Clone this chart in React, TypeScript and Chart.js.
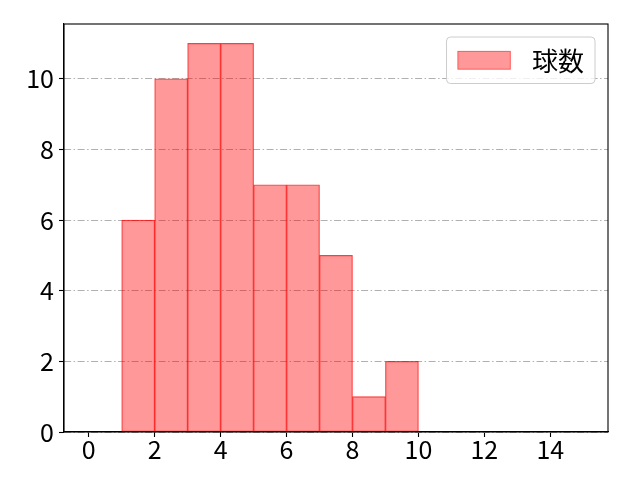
import React, { useEffect, useRef } from "react";
import { Chart, registerables } from "chart.js";

Chart.register(...registerables);

const binStarts = [1, 2, 3, 4, 5, 6, 7, 8, 9];
const counts = [6, 10, 11, 11, 7, 7, 5, 1, 2];
const xTicks = [0, 2, 4, 6, 8, 10, 12, 14];
const yTicks = [0, 2, 4, 6, 8, 10];
const seriesLabel = "球数";

const FONT = '"Noto Sans CJK JP", "Noto Sans", sans-serif';
const FILL = "rgba(255, 0, 0, 0.4)";
const EDGE = "rgba(255, 0, 0, 0.7)";

const framePlugin = {
  id: "frame",
  afterDraw(chart: any) {
    const { ctx, chartArea } = chart;
    ctx.save();
    ctx.strokeStyle = "#000";
    ctx.lineWidth = 1.1;
    ctx.strokeRect(chartArea.left, chartArea.top, chartArea.right - chartArea.left, chartArea.bottom - chartArea.top);
    ctx.restore();
  },
};

const legendPlugin = {
  id: "mplLegend",
  afterDraw(chart: any) {
    const { ctx, chartArea } = chart;
    const fs = 26;
    ctx.save();
    ctx.font = `${fs}px ${FONT}`;
    const label = chart.data.datasets[0].label;
    const tw = ctx.measureText(label).width;
    const pad = 0.42 * fs;
    const handleLen = 2.05 * fs;
    const handleH = 0.72 * fs;
    const gap = 0.82 * fs;
    const boxW = pad + handleLen + gap + tw + pad;
    const boxH = pad * 2 + fs * 0.95;
    const right = chartArea.right - 0.5 * fs;
    const top = chartArea.top + 0.5 * fs;
    const left = right - boxW;
    const r = 4;
    ctx.beginPath();
    ctx.moveTo(left + r, top);
    ctx.lineTo(right - r, top);
    ctx.quadraticCurveTo(right, top, right, top + r);
    ctx.lineTo(right, top + boxH - r);
    ctx.quadraticCurveTo(right, top + boxH, right - r, top + boxH);
    ctx.lineTo(left + r, top + boxH);
    ctx.quadraticCurveTo(left, top + boxH, left, top + boxH - r);
    ctx.lineTo(left, top + r);
    ctx.quadraticCurveTo(left, top, left + r, top);
    ctx.closePath();
    ctx.fillStyle = "rgba(255,255,255,0.8)";
    ctx.fill();
    ctx.strokeStyle = "#cccccc";
    ctx.lineWidth = 1;
    ctx.stroke();
    const cy = top + boxH / 2;
    const hx = left + pad;
    ctx.fillStyle = FILL;
    ctx.fillRect(hx, cy - handleH / 2, handleLen, handleH);
    ctx.strokeStyle = "rgba(255,0,0,0.4)";
    ctx.strokeRect(hx + 0.5, cy - handleH / 2 + 0.5, handleLen - 1, handleH - 1);
    ctx.fillStyle = "#000";
    ctx.textBaseline = "middle";
    ctx.textAlign = "left";
    ctx.fillText(label, hx + handleLen + gap, cy + 1);
    ctx.restore();
  },
};

export default function App() {
  const ref = useRef<HTMLCanvasElement | null>(null);
  useEffect(() => {
    if (!ref.current) return;
    const data = binStarts.map((s, i) => ({ x: s + 0.5, y: counts[i] }));
    const chart = new Chart(ref.current, {
      type: "bar",
      data: {
        datasets: [
          {
            label: seriesLabel,
            data: data as any,
            backgroundColor: FILL,
            borderColor: EDGE,
            borderWidth: 0.5,
            borderSkipped: false,
            barPercentage: 1,
            categoryPercentage: 1,
          },
        ],
      },
      options: {
        animation: false,
        responsive: false,
        devicePixelRatio: 1,
        layout: { padding: { left: 0, top: 24, right: 32, bottom: 0 } },
        plugins: { legend: { display: false }, tooltip: { enabled: false } },
        scales: {
          x: {
            type: "linear",
            offset: false,
            min: -0.75,
            max: 15.75,
            afterBuildTicks: (s: any) => {
              s.ticks = xTicks.map((v) => ({ value: v }));
            },
            afterFit: (s: any) => {
              s.height = 48;
            },
            grid: { offset: false, drawOnChartArea: false, tickLength: 5, tickColor: "#000", tickWidth: 1.1 },
            border: { display: true, color: "#000", width: 1.1 },
            ticks: { color: "#000", font: { family: FONT, size: 25 }, padding: -3, maxRotation: 0, autoSkip: false },
          },
          y: {
            type: "linear",
            min: 0,
            max: 11.55,
            afterBuildTicks: (s: any) => {
              s.ticks = yTicks.map((v) => ({ value: v }));
            },
            afterFit: (s: any) => {
              s.width = 64;
            },
            grid: { color: "#b0b0b0", lineWidth: 1, tickLength: 5, tickColor: "#000", tickWidth: 1.1 },
            border: { display: true, color: "#000", width: 1.1, dash: [7, 2.5, 1.5, 2.5] },
            ticks: { color: "#000", font: { family: FONT, size: 25 }, padding: 5, autoSkip: false },
          },
        },
      },
      plugins: [framePlugin, legendPlugin],
    } as any);
    return () => chart.destroy();
  }, []);
  return (
    <div style={{ position: "fixed", left: 0, top: 0, width: 640, height: 480, background: "#fff" }}>
      <canvas ref={ref} width={640} height={480} style={{ width: 640, height: 480 }} />
    </div>
  );
}
